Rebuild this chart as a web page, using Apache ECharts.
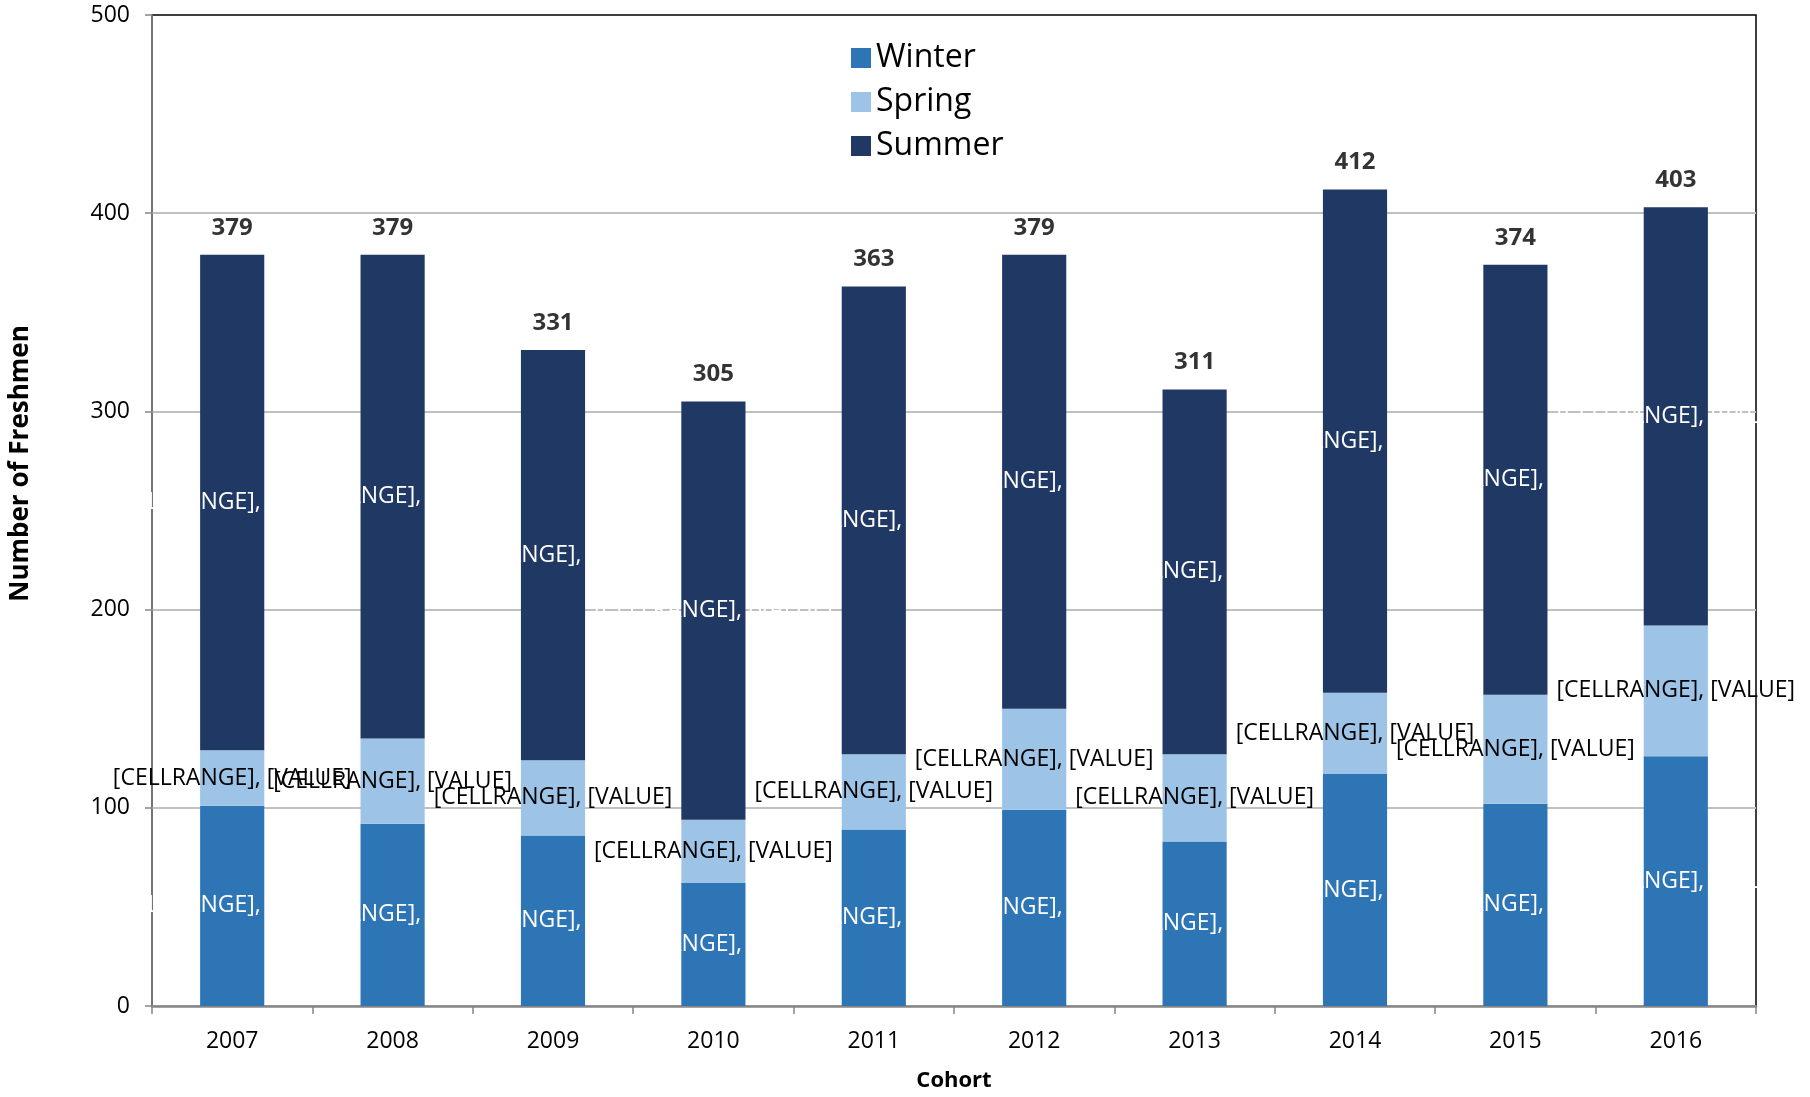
<!DOCTYPE html>
<html>
<head>
<meta charset="utf-8">
<title>Freshmen by Cohort</title>
<script src="https://cdn.jsdelivr.net/npm/echarts@6/dist/echarts.min.js"></script>
<style>
  html, body { margin: 0; padding: 0; background: #fff; }
  #main { width: 1810px; height: 1097px; }
</style>
</head>
<body>
<div id="main"></div>
<script>
var cohorts = ['2007', '2008', '2009', '2010', '2011', '2012', '2013', '2014', '2015', '2016']
var winter = [101, 92, 86, 62, 89, 99, 83, 117, 102, 126]
var spring = [28, 43, 38, 32, 38, 51, 44, 41, 55, 66]
var summer = [250, 244, 207, 211, 236, 229, 184, 254, 217, 211]
var totals = [379, 379, 331, 305, 363, 379, 311, 412, 374, 403]
var yTicks = [0, 100, 200, 300, 400, 500]

var FONT = '"Open Sans", "Noto Sans", sans-serif'
var brokenLabel = '[CELLRANGE], [VALUE]' // excel label text as it appears

var myChart = echarts.init(document.getElementById('main'))

var options = {
  animation: false,
  backgroundColor: '#fff',
  textStyle: { fontFamily: FONT },
  grid: {
    left: 151,
    right: 54,
    top: 15,
    bottom: 88,
    show: true,
    borderColor: '#000',
    borderWidth: 1.5,
  },
  legend: {
    data: ['Winter', 'Spring', 'Summer'],
    orient: 'vertical',
    left: 846,
    top: 37,
    icon: 'rect',
    itemWidth: 20,
    itemHeight: 20,
    itemGap: 12,
    itemTextGap: 9,
    textStyle: { fontSize: 32, color: '#000', fontFamily: FONT },
  },
  xAxis: {
    type: 'category',
    data: cohorts,
    name: 'Cohort',
    nameLocation: 'middle',
    nameGap: 64,
    nameTextStyle: { fontSize: 22, fontWeight: 'bold', color: '#000' },
    axisLine: { lineStyle: { color: '#868686', width: 2.5 } },
    axisTick: { show: true, length: 8, lineStyle: { color: '#868686', width: 1.5 } },
    axisLabel: { fontSize: 23, color: '#000', margin: 24 },
  },
  yAxis: {
    type: 'value',
    min: yTicks[0],
    max: yTicks[yTicks.length - 1],
    interval: 100,
    name: 'Number of Freshmen',
    nameLocation: 'middle',
    nameGap: 118,
    nameTextStyle: { fontSize: 26, fontWeight: 'bold', color: '#000', padding: [0, 0, 0, 94] },
    axisLine: { show: true, lineStyle: { color: '#868686', width: 1.5 } },
    axisTick: { show: true, length: 7, lineStyle: { color: '#868686', width: 1.5 } },
    axisLabel: { fontSize: 23, color: '#000', margin: 22 },
    splitLine: { show: true, showMaxLine: false, lineStyle: { color: '#C0C0C0', width: 2 } },
  },
  series: [
    {
      name: 'Winter',
      type: 'bar',
      stack: 'all',
      barWidth: '40%',
      data: winter,
      itemStyle: { color: '#2E75B6' },
      label: {
        show: true,
        position: 'inside',
        formatter: brokenLabel,
        color: '#fff',
        fontSize: 23,
        fontFamily: FONT,
      },
    },
    {
      name: 'Spring',
      type: 'bar',
      stack: 'all',
      data: spring,
      itemStyle: { color: '#9DC3E6' },
      label: {
        show: true,
        position: 'inside',
        formatter: brokenLabel,
        color: '#000',
        fontSize: 23,
        fontFamily: FONT,
      },
    },
    {
      name: 'Summer',
      type: 'bar',
      stack: 'all',
      data: summer,
      itemStyle: { color: '#203864' },
      label: {
        show: true,
        position: 'inside',
        formatter: brokenLabel,
        color: '#fff',
        fontSize: 23,
        fontFamily: FONT,
      },
    },
    {
      name: 'Total',
      type: 'scatter',
      data: totals,
      symbolSize: 0,
      silent: true,
      label: {
        show: true,
        position: 'top',
        distance: 15,
        formatter: '{c}',
        color: '#000',
        fontSize: 24,
        fontWeight: 'bold',
        fontFamily: FONT,
      },
    },
  ],
}
myChart.setOption(options)
</script>
</body>
</html>
